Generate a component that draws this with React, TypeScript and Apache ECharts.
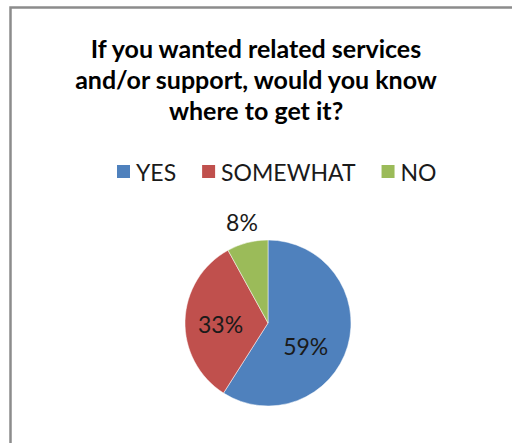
import React, { useEffect, useRef } from "react";
import * as echarts from "echarts";

const categories = ["YES", "SOMEWHAT", "NO"];
const values = [59, 33, 8];
const colors = ["#4F81BD", "#C0504D", "#9BBB59"];
const titleText = "If you wanted related services\nand/or support, would you know\nwhere to get it?";

const labelOffsets: Record<string, number[]> = {
  YES: [-5, 11],
  SOMEWHAT: [-3, 2],
  NO: [-15, -58],
};

export default function App() {
  const ref = useRef<HTMLDivElement>(null);
  useEffect(() => {
    const chart = echarts.init(ref.current!, null, { renderer: "svg" });
    const data = categories.map((name, i) => ({
      name,
      value: values[i],
      itemStyle: { color: colors[i] },
      label: { offset: labelOffsets[name] },
    }));
    chart.setOption({
      animation: false,
      backgroundColor: "#ffffff",
      textStyle: { fontFamily: "Lato" },
      title: {
        text: titleText,
        left: 251,
        textAlign: "center",
        top: 27,
        textStyle: { fontFamily: "Lato", fontSize: 25, fontWeight: "bold", color: "#000", lineHeight: 31 },
      },
      legend: {
        top: 155,
        left: 110,
        icon: "rect",
        itemWidth: 15,
        itemHeight: 15,
        itemGap: 24,
        textStyle: { fontFamily: "Lato", fontSize: 23, color: "#1a1a1a", padding: [0, 0, 0, 0] },
        data: categories,
      },
      graphic: [
        {
          type: "rect",
          shape: { x: 10.5, y: 7.5, width: 700, height: 700 },
          style: { fill: "none", stroke: "#8c8c8c", lineWidth: 2.5 },
          silent: true,
        },
      ],
      series: [
        {
          type: "pie",
          center: [268, 323],
          radius: 83,
          startAngle: 90,
          clockwise: true,
          data,
          label: {
            show: true,
            position: "inside",
            formatter: "{d}%",
            fontFamily: "Lato",
            fontSize: 23,
            color: "#1a1a1a",
          },
          labelLine: { show: false },
          itemStyle: { borderColor: "#ffffff", borderWidth: 0.5 },
        },
      ],
    });
    return () => chart.dispose();
  }, []);
  return <div ref={ref} style={{ position: "fixed", left: 0, top: 0, width: 512, height: 443 }} />;
}
